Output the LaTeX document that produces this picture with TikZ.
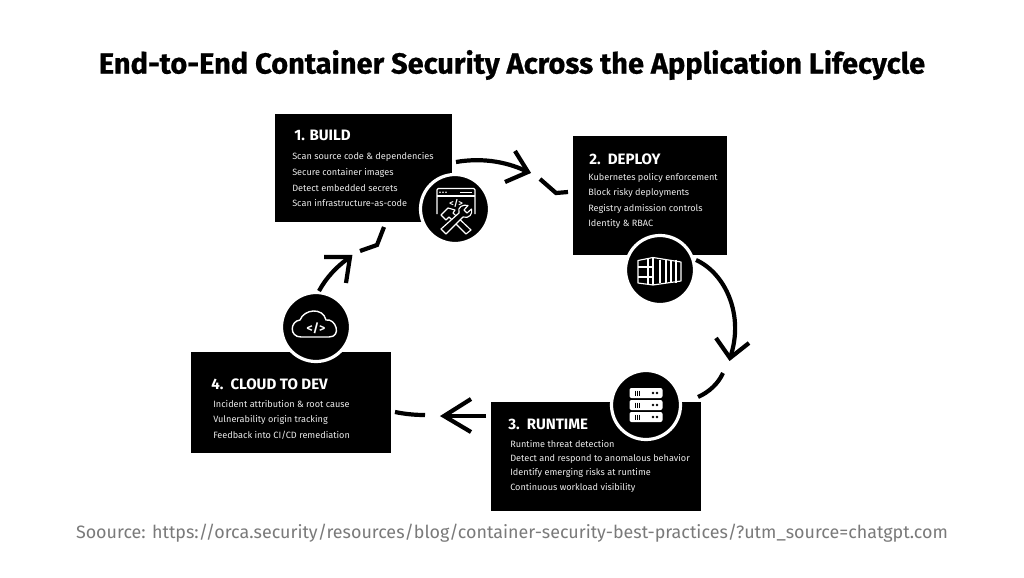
\documentclass[tikz,border=0pt]{standalone}
\usepackage{fontspec}
\setmainfont{Fira Sans}
\newfontfamily\titlefont{Fira Sans}[BoldFeatures={FakeBold=0.7}]
\usetikzlibrary{arrows.meta}
\def\u{0.75pt}
\tikzset{
 x=0.75pt,y=-0.75pt,
 panel/.style={fill=black,draw=none,inner sep=0pt,outer sep=0pt,anchor=north west},
 head/.style={text=white,anchor=west,inner sep=0pt,yshift=-0.6pt,font=\fontsize{11.3pt}{13pt}\selectfont\bfseries},
 item/.style={text=white!92!black,anchor=west,inner sep=0pt,yshift=-0.7pt,font=\fontsize{6.85pt}{8pt}\selectfont},
 ring/.style={circle,fill=black,draw=white,line width=3.2*\u,minimum size=69*\u,inner sep=0pt,outer sep=0pt},
 flow/.style={draw=black,line width=4.2*\u,line cap=butt,line join=miter},
 ico/.style={draw=white,line width=1.15*\u,line join=round},
 titletext/.style={font=\titlefont\fontsize{21.76pt}{26pt}\selectfont\bfseries,inner sep=0pt},
 srctext/.style={text=black!52,font=\fontsize{13.43pt}{16pt}\selectfont,inner sep=0pt},
}
\begin{document}
\begin{tikzpicture}
\useasboundingbox[fill=white] (0,0) rectangle (1024,578);
\node[titletext] (title) at (512,65) {End-to-End Container Security Across the Application Lifecycle};
\node[srctext] (src) at (512,533) {Soource: https://orca.security/resources/blog/container-security-best-practices/?utm\_source=chatgpt.com};

% panels
\node[panel,minimum width=177*\u,minimum height=108*\u] (b1) at (275,114) {};
\node[panel,minimum width=154*\u,minimum height=119*\u] (b2) at (573,136) {};
\node[panel,minimum width=210*\u,minimum height=109*\u] (b3) at (491,402) {};
\node[panel,minimum width=200*\u,minimum height=101*\u] (b4) at (191,352) {};

% panel 1
\node[head] (h1) at (294,135) {1. BUILD};
\node[item] (t11) at (292,156) {Scan source code \& dependencies};
\node[item] (t12) at (292,172) {Secure container images};
\node[item] (t13) at (292,187) {Detect embedded secrets};
\node[item] (t14) at (292,202) {Scan infrastructure-as-code};
% panel 2
\node[head] (h2) at (589,158) {2.\ \ DEPLOY};
\node[item] (t21) at (588,177) {Kubernetes policy enforcement};
\node[item] (t22) at (588,192) {Block risky deployments};
\node[item] (t23) at (588,208) {Registry admission controls};
\node[item] (t24) at (588,223) {Identity \& RBAC};
% panel 3
\node[head] (h3) at (508,424) {3.\ \ RUNTIME};
\node[item] (t31) at (510,443) {Runtime threat detection};
\node[item] (t32) at (510,458) {Detect and respond to anomalous behavior};
\node[item] (t33) at (510,472) {Identify emerging risks at runtime};
\node[item] (t34) at (510,487) {Continuous workload visibility};
% panel 4
\node[head] (h4) at (211,383) {4.\ \ CLOUD TO DEV};
\node[item] (t41) at (213,403) {Incident attribution \& root cause};
\node[item] (t42) at (213,418.5) {Vulnerability origin tracking};
\node[item] (t43) at (213,434) {Feedback into CI/CD remediation};

% badges
\node[ring] (c1) at (455,209) {};
\node[ring] (c2) at (660,270) {};
\node[ring] (c3) at (646,405) {};
\node[ring] (c4) at (316,327) {};

% connector ends
\coordinate (a1s) at (456,162); \coordinate (a1e) at (528,172);
\coordinate (a1u) at (515,151); \coordinate (a1l) at (505,182);
\coordinate (p1s) at (540,179); \coordinate (p1m) at (556,193); \coordinate (p1e) at (568,192);
\coordinate (a2s) at (696,260); \coordinate (a2e) at (730,358);
\coordinate (a2u) at (716,338); \coordinate (a2l) at (749,343);
\coordinate (p2s) at (723,373); \coordinate (p2e) at (698,397);
\coordinate (a3s) at (486,416); \coordinate (a3e) at (444,416);
\coordinate (a3u) at (471,399); \coordinate (a3l) at (471,432);
\coordinate (p3s) at (425,415); \coordinate (p3e) at (395,412);
\coordinate (a4s) at (319,291); \coordinate (a4e) at (350,257);
\coordinate (a4u) at (324,257); \coordinate (a4l) at (346,283);
\coordinate (p4s) at (360,251); \coordinate (p4m) at (377,245); \coordinate (p4e) at (384,227);

% connectors
\draw[flow] (a1s) .. controls (485,157) and (510,163) .. (a1e);
\draw[flow] (a1u) -- (a1e) -- (a1l);
\draw[flow] (p1s) -- (p1m) -- (p1e);
\draw[flow] (a2s) .. controls (725,273) and (745,315) .. (a2e);
\draw[flow] (a2u) -- (a2e) -- (a2l);
\draw[flow] (p2s) .. controls (718,384) and (709,392) .. (p2e);
\draw[flow] (a3s) -- (a3e);
\draw[flow] (a3u) -- (a3e) -- (a3l);
\draw[flow] (p3s) .. controls (414,415) and (405,414) .. (p3e);
\draw[flow] (a4s) .. controls (326,278) and (336,267) .. (a4e);
\draw[flow] (a4u) -- (a4e) -- (a4l);
\draw[flow] (p4s) -- (p4m) -- (p4e);

% icon 1: window and tools
\draw[ico,rounded corners=1.2*\u] (437,214) -- (437,188.5) -- (475,188.5) -- (475,214);
\draw[ico] (437,196) -- (475,196);
\foreach \dx in {440,443,446} \fill[white] (\dx,192.3) circle[radius=0.9];
\draw[white,line width=1.6*\u] (460,192.3) -- (472,192.3);
\node[text=white,inner sep=0pt,font=\fontsize{6.5pt}{7pt}\selectfont\bfseries] (code1) at (456,203) {</>};
% hammer
\draw[ico] (466,234) -- (449,217) -- (446,220) -- (441,215) -- (448,208) -- (455,210) -- (453,213) -- (471,230) -- cycle;
% wrench
\draw[ico,fill=black] (446,234) -- (441,229) -- (459,213) .. controls (457,207) and (463,204) .. (468,205.5) -- (464,210) -- (467,213) -- (471.5,209) .. controls (473,214) and (469,219) .. (463,217) -- cycle;

% icon 2: container
\draw[ico] (638,260.5) -- (653,257.5) -- (681,262) -- (681,281) -- (653,285) -- (638,283) -- cycle;
\draw[ico] (653,257.5) -- (653,285);
\draw[ico] (648,259) -- (648,284.5);
\draw[ico] (638,267) -- (653,267) (638,277) -- (653,277);
\foreach \ix in {660,666,671,676} \draw[ico] (\ix,259.5) -- (\ix,283);

% icon 3: server
\foreach \yy/\nm in {393/s1,405/s2,417/s3}{
  \node[fill=white,rounded corners=2*\u,minimum width=33*\u,minimum height=10*\u,inner sep=0pt] (\nm) at (646,\yy) {};
  \foreach \dx in {-11,-9,-7} \draw[black,line width=0.9*\u] (646+\dx,\yy-2.5) -- (646+\dx,\yy+2.5);
  \fill[black] (646+7,\yy) circle[radius=1.3];
  \fill[black] (646+11,\yy) circle[radius=1.3];
}

% icon 4: cloud
\draw[ico,line width=1.4*\u] (301,337) .. controls (289,337) and (290,321) .. (300,320) .. controls (304,309) and (323,307) .. (326,320) .. controls (336,318) and (342,337) .. (329,337) -- cycle;
\node[text=white,inner sep=0pt,font=\fontsize{9pt}{10pt}\selectfont\bfseries] (code4) at (316,328) {</>};
\end{tikzpicture}
\end{document}
